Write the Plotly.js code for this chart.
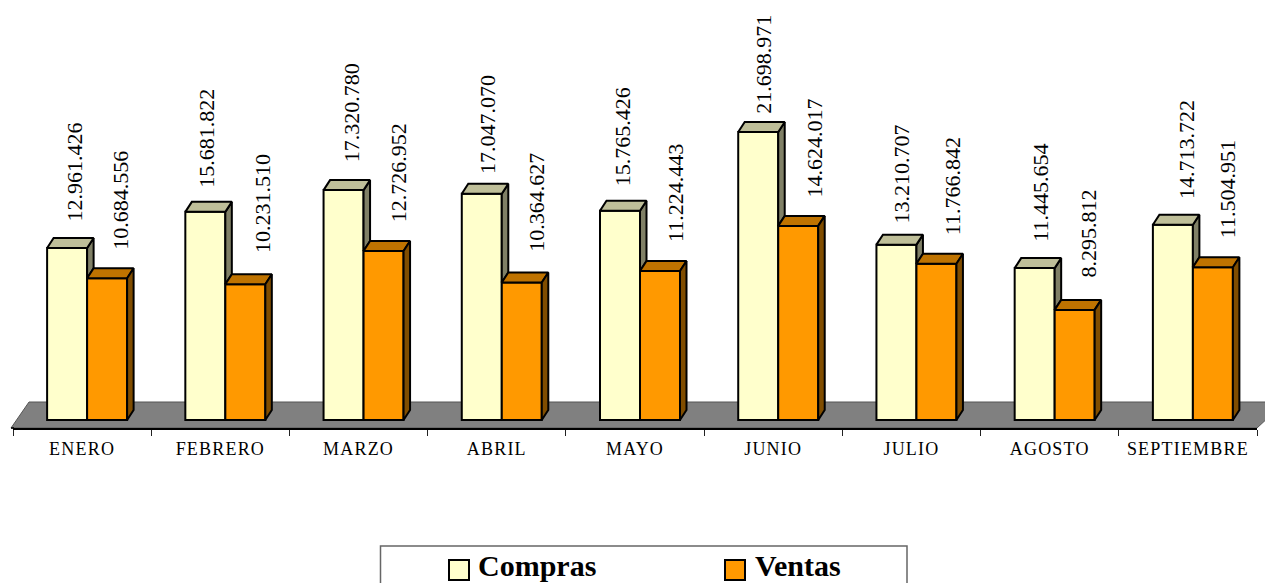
<!DOCTYPE html>
<html>
<head>
<meta charset="utf-8">
<script src="https://cdn.plot.ly/plotly-3.0.1.min.js"></script>
<style>html,body{margin:0;padding:0;background:#fff;overflow:hidden}#chart{width:1265px;height:583px}
.xtick text{letter-spacing:1.2px}</style>
</head>
<body>
<div id="chart"></div>
<script>
const months = ['ENERO','FEBRERO','MARZO','ABRIL','MAYO','JUNIO','JULIO','AGOSTO','SEPTIEMBRE'];
const compras = [12961426,15681822,17320780,17047070,15765426,21698971,13210707,11445654,14713722];
const ventas = [10684556,10231510,12726952,10364627,11224443,14624017,11766842,8295812,11504951];

// label placement, in pixels relative to each bar's front face
const comprasLabelDx = [7,1,8,5,2,5,5,5,13];
const comprasLabelLift = [25,23,27,19,23,17,20,25,25];
const ventasLabelDx = [14,17,15,15,15,16,16,14,14];
const ventasLabelLift = [27,30,28,30,28,27,28,31,28];

const W = 1265, H = 583, L = 13, R = 8, B = 155, AXIS_PX = 428;
const plotW = W - L - R;
const catPx = plotW / 9;
const pxPerUnit = 288 / 21698971;
const yMin = -8 / pxPerUnit, yMax = 420 / pxPerUnit;
const shift = 5 / catPx, barW = 40 / catPx, dx = 6.5 / catPx, dy = 10 / pxPerUnit;

const fx = px => (px - L) / plotW;
const fy = py => (AXIS_PX - py) / AXIS_PX;
const fmt = v => String(v).replace(/\B(?=(\d{3})+$)/g, '.');
const idx = months.map((_, i) => i);
const OUT = {color:'#000', width:2};
const SERIF = '"Liberation Serif", serif';

function poly(xsFn, ysFn){
  const x = [], y = [];
  idx.forEach(i => { x.push(...xsFn(i), null); y.push(...ysFn(i), null); });
  return {x, y};
}
function face(p, color){
  return {type:'scatter', mode:'lines', xaxis:'x2', yaxis:'y', x:p.x, y:p.y, fill:'toself', fillcolor:color,
          line:{color:'#000', width:2}, hoverinfo:'skip', showlegend:false, cliponaxis:false};
}
const cx0 = i => i + shift - barW, cx1 = i => i + shift, vx1 = i => i + shift + barW;

const comprasSide = face(poly(i=>[cx1(i),cx1(i)+dx,cx1(i)+dx,cx1(i),cx1(i)],
                              i=>[compras[i],compras[i]+dy,ventas[i]+dy,ventas[i],compras[i]]), '#808066');
const comprasTop = face(poly(i=>[cx0(i),cx0(i)+dx,cx1(i)+dx,cx1(i),cx0(i)],
                             i=>[compras[i],compras[i]+dy,compras[i]+dy,compras[i],compras[i]]), '#BFBF99');
const ventasTop = face(poly(i=>[cx1(i),cx1(i)+dx,vx1(i)+dx,vx1(i),cx1(i)],
                            i=>[ventas[i],ventas[i]+dy,ventas[i]+dy,ventas[i],ventas[i]]), '#BF7300');
const ventasSide = face(poly(i=>[vx1(i),vx1(i)+dx,vx1(i)+dx,vx1(i),vx1(i)],
                             i=>[ventas[i],ventas[i]+dy,dy,0,ventas[i]]), '#804D00');

const comprasBar = {type:'bar', x:months, y:compras, width:barW, offset:shift-barW, name:'Compras',
                    marker:{color:'#FFFFCC', line:OUT}, showlegend:false, hovertemplate:'%{x}: %{y}<extra>Compras</extra>'};
const ventasBar = {type:'bar', x:months, y:ventas, width:barW, offset:shift, name:'Ventas',
                   marker:{color:'#FF9900', line:OUT}, showlegend:false, hovertemplate:'%{x}: %{y}<extra>Ventas</extra>'};

const label = (i, v, base, ddx, lift) => ({
  x: i + base, y: v, xref:'x2', yref:'y', text: fmt(v), showarrow:false, textangle:-90,
  xanchor:'center', yanchor:'bottom', xshift: ddx, yshift: lift, borderpad:0,
  font:{family:SERIF, size:22, color:'#000'}
});
const legendText = (text, px) => ({
  x: fx(px), y: fy(565.5), xref:'paper', yref:'paper', text:'<b>'+text+'</b>', showarrow:false,
  xanchor:'left', yanchor:'middle', borderpad:0, font:{family:SERIF, size:30, color:'#000'}
});
const annotations = [
  ...idx.map(i => label(i, compras[i], shift-barW/2, comprasLabelDx[i], comprasLabelLift[i])),
  ...idx.map(i => label(i, ventas[i], shift+barW/2, ventasLabelDx[i], ventasLabelLift[i])),
  legendText('Compras', 477), legendText('Ventas', 754)
];

const floorPath = 'M'+fx(11)+','+fy(428)+' L'+fx(29)+','+fy(402)+' L'+fx(1285)+','+fy(402)+' L'+fx(1257)+','+fy(428)+' Z';
const pRect = (x0,y0,x1,y1,fill,line) => ({type:'rect', xref:'paper', yref:'paper', layer:'above',
  x0:fx(x0), x1:fx(x1), y0:fy(y0), y1:fy(y1), fillcolor:fill, line});

const layout = {
  width:W, height:H, showlegend:false, barmode:'overlay',
  paper_bgcolor:'#fff', plot_bgcolor:'rgba(0,0,0,0)',
  margin:{l:L, r:R, t:0, b:B, pad:0, autoexpand:false},
  font:{family:SERIF, color:'#000'},
  xaxis:{type:'category', categoryorder:'array', categoryarray:months, range:[-0.5,8.5], tickson:'boundaries',
         ticks:'outside', ticklen:6, tickwidth:1, tickcolor:'#222', showline:true, linecolor:'#000', linewidth:1.5,
         showgrid:false, zeroline:false, tickangle:0, automargin:false, fixedrange:true, ticklabelstandoff:4,
         tickfont:{family:SERIF, size:18, color:'#000'}},
  xaxis2:{type:'linear', overlaying:'x', range:[-0.5,8.5], visible:false, fixedrange:true},
  yaxis:{range:[yMin,yMax], visible:false, fixedrange:true, automargin:false},
  shapes:[
    {type:'path', xref:'paper', yref:'paper', layer:'below', path:floorPath, fillcolor:'#808080', line:{color:'#555', width:1}},
    {type:'line', xref:'paper', yref:'paper', layer:'below', x0:fx(11), x1:fx(14), y0:0, y1:0, line:{color:'#000', width:1.5}},
    pRect(380.5,546,907,600,'#fff',{color:'#666', width:1.5}),
    pRect(449,560,469,580,'#FFFFCC',{color:'#000', width:2}),
    pRect(725,560,745,580,'#FF9900',{color:'#000', width:2})
  ],
  annotations
};

Plotly.newPlot('chart',
  [comprasBar, ventasBar, comprasSide, comprasTop, ventasTop, ventasSide],
  layout, {displayModeBar:false, responsive:false});
</script>
</body>
</html>
